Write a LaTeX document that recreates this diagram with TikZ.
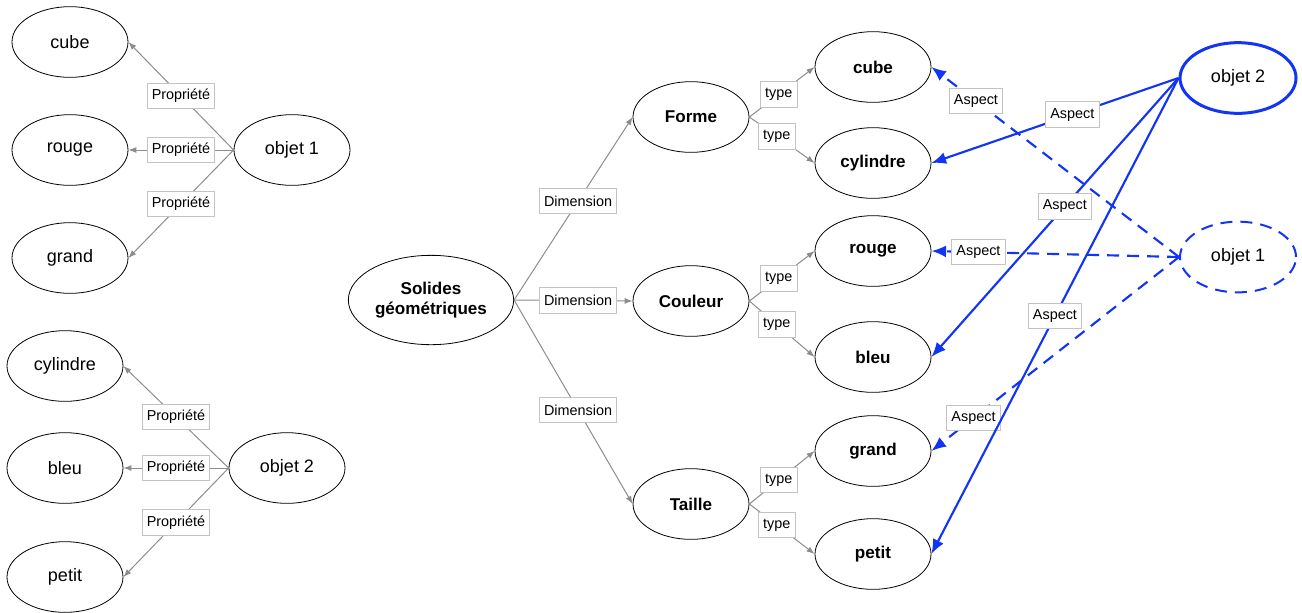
\documentclass[tikz,border=0pt]{standalone}
\usepackage{fontspec}
\setmainfont{Liberation Sans}
\usetikzlibrary{shapes.geometric,arrows.meta}
\definecolor{ablue}{RGB}{18,52,245}
\definecolor{egray}{RGB}{140,140,140}
\definecolor{lgray}{RGB}{195,195,195}
\begin{document}
\begin{tikzpicture}[x=0.75pt,y=-0.75pt,
 ell/.style={ellipse,draw,line width=0.6pt,minimum width=87pt,minimum height=53pt,inner sep=0pt,font=\fontsize{13.5}{16}\selectfont},
 bell/.style={ell,font=\fontsize{12.8}{15.5}\selectfont\bfseries},
 lab/.style={draw=lgray,fill=white,solid,line width=0.6pt,inner xsep=3.5pt,inner ysep=0pt,minimum height=19pt,font=\fontsize{10.8}{12}\selectfont,text=black},
 garr/.style={draw=egray,line width=0.75pt,-{Latex[length=6pt,width=4.5pt]}},
 barr/.style={draw=ablue,line width=1.6pt,-{Latex[length=11pt,width=9pt]}},
 bdash/.style={barr,dash pattern=on 9pt off 6pt},
]
\useasboundingbox (0,0) rectangle (1302,612);

% left group 1
\node[ell] (lcube)  at (70,42)  {cube};
\node[ell] (lrouge) at (70,150) {rouge};
\node[ell] (lgrand) at (70,258) {grand};
\node[ell] (lo1)    at (292,150) {objet 1};
\draw[garr] (lo1.west) -- node[lab]{Propriété} (lcube.east);
\draw[garr] (lo1.west) -- node[lab]{Propriété} (lrouge.east);
\draw[garr] (lo1.west) -- node[lab]{Propriété} (lgrand.east);

% left group 2
\node[ell] (lcyl)   at (65,366) {cylindre};
\node[ell] (lbleu)  at (65,468) {bleu};
\node[ell] (lpetit) at (65,577) {petit};
\node[ell] (lo2)    at (287,468) {objet 2};
\draw[garr] (lo2.west) -- node[lab]{Propriété} (lcyl.east);
\draw[garr] (lo2.west) -- node[lab]{Propriété} (lbleu.east);
\draw[garr] (lo2.west) -- node[lab]{Propriété} (lpetit.east);

% middle tree
\node[bell,align=center,minimum width=124pt,minimum height=67pt] (sol) at (431,300) {Solides\\géométriques};
\node[bell] (forme)  at (691,117) {Forme};
\node[bell] (coul)   at (691,301) {Couleur};
\node[bell] (taille) at (691,504) {Taille};
\node[bell] (mcube)  at (873,67)  {cube};
\node[bell] (mcyl)   at (873,163) {cylindre};
\node[bell] (mrouge) at (873,251) {rouge};
\node[bell] (mbleu)  at (873,357) {bleu};
\node[bell] (mgrand) at (873,451) {grand};
\node[bell] (mpetit) at (873,554) {petit};

\draw[garr] (sol.east) -- node[lab,pos=0.54]{Dimension} (forme.west);
\draw[garr] (sol.east) -- node[lab,pos=0.54]{Dimension} (coul.west);
\draw[garr] (sol.east) -- node[lab,pos=0.54]{Dimension} (taille.west);

\draw[garr] (forme.east) -- node[lab,pos=0.45]{type} (mcube.west);
\draw[garr] (forme.east) -- node[lab,pos=0.42]{type} (mcyl.west);
\draw[garr] (coul.east) -- node[lab,pos=0.45]{type} (mrouge.west);
\draw[garr] (coul.east) -- node[lab,pos=0.42]{type} (mbleu.west);
\draw[garr] (taille.east) -- node[lab,pos=0.45]{type} (mgrand.west);
\draw[garr] (taille.east) -- node[lab,pos=0.42]{type} (mpetit.west);

% objects on the right
\node[ell,draw=ablue,line width=2.25pt] (ro2) at (1238,78) {objet 2};
\node[ell,draw=ablue,line width=1.5pt,dash pattern=on 9pt off 6pt] (ro1) at (1238,257) {objet 1};

\draw[bdash] (ro1.west) -- node[lab,pos=0.82]{Aspect} (mcube.east);
\draw[bdash] (ro1.west) -- node[lab,pos=0.81]{Aspect} (mrouge.east);
\draw[bdash] (ro1.west) -- node[lab,pos=0.83]{Aspect} (mgrand.east);

\draw[barr] (ro2.west) -- node[lab,pos=0.43]{Aspect} (mcyl.east);
\draw[barr] (ro2.west) -- node[lab,pos=0.46]{Aspect} (mbleu.east);
\draw[barr] (ro2.west) -- node[lab,pos=0.50]{Aspect} (mpetit.east);
\end{tikzpicture}
\end{document}
